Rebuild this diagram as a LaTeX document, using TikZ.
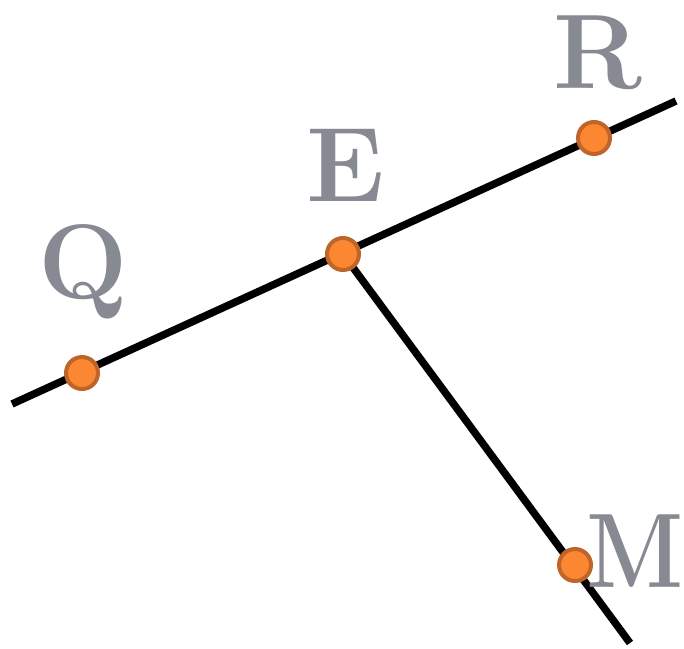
\documentclass[tikz,border=0pt]{standalone}
\usepackage{fontspec}
\definecolor{labelgrey}{HTML}{878A92}
\definecolor{dotfill}{HTML}{FB8733}
\definecolor{dotedge}{HTML}{BF6529}
\begin{document}
\begin{tikzpicture}[x=1pt,y=-1pt,
  seg/.style={line width=7.5pt,black},
  pt/.style={circle,fill=dotfill,draw=dotedge,line width=4pt,minimum size=32pt,inner sep=0pt},
  lbl/.style={anchor=base,inner sep=0pt,text=labelgrey,font=\fontsize{106}{106}\selectfont\bfseries}]
\useasboundingbox (0,0) rectangle (684,648);
\coordinate (A) at (12,404);
\coordinate (B) at (676,101);
\coordinate (C) at (630,643);
\coordinate (Ep) at (343,254);
\draw[seg] (A) -- (B);
\draw[seg] (Ep) -- (C);
\node[pt] (Q) at (82,373) {};
\node[pt] (E) at (343,254) {};
\node[pt] (R) at (594,138) {};
\node[pt] (M) at (575,565) {};
\node[lbl] (lQ) at (83,298) {Q};
\node[lbl] (lE) at (346,201) {E};
\node[lbl] (lR) at (598,88) {R};
\node[lbl,xscale=0.86] (lM) at (635,587) {M};
\end{tikzpicture}
\end{document}
